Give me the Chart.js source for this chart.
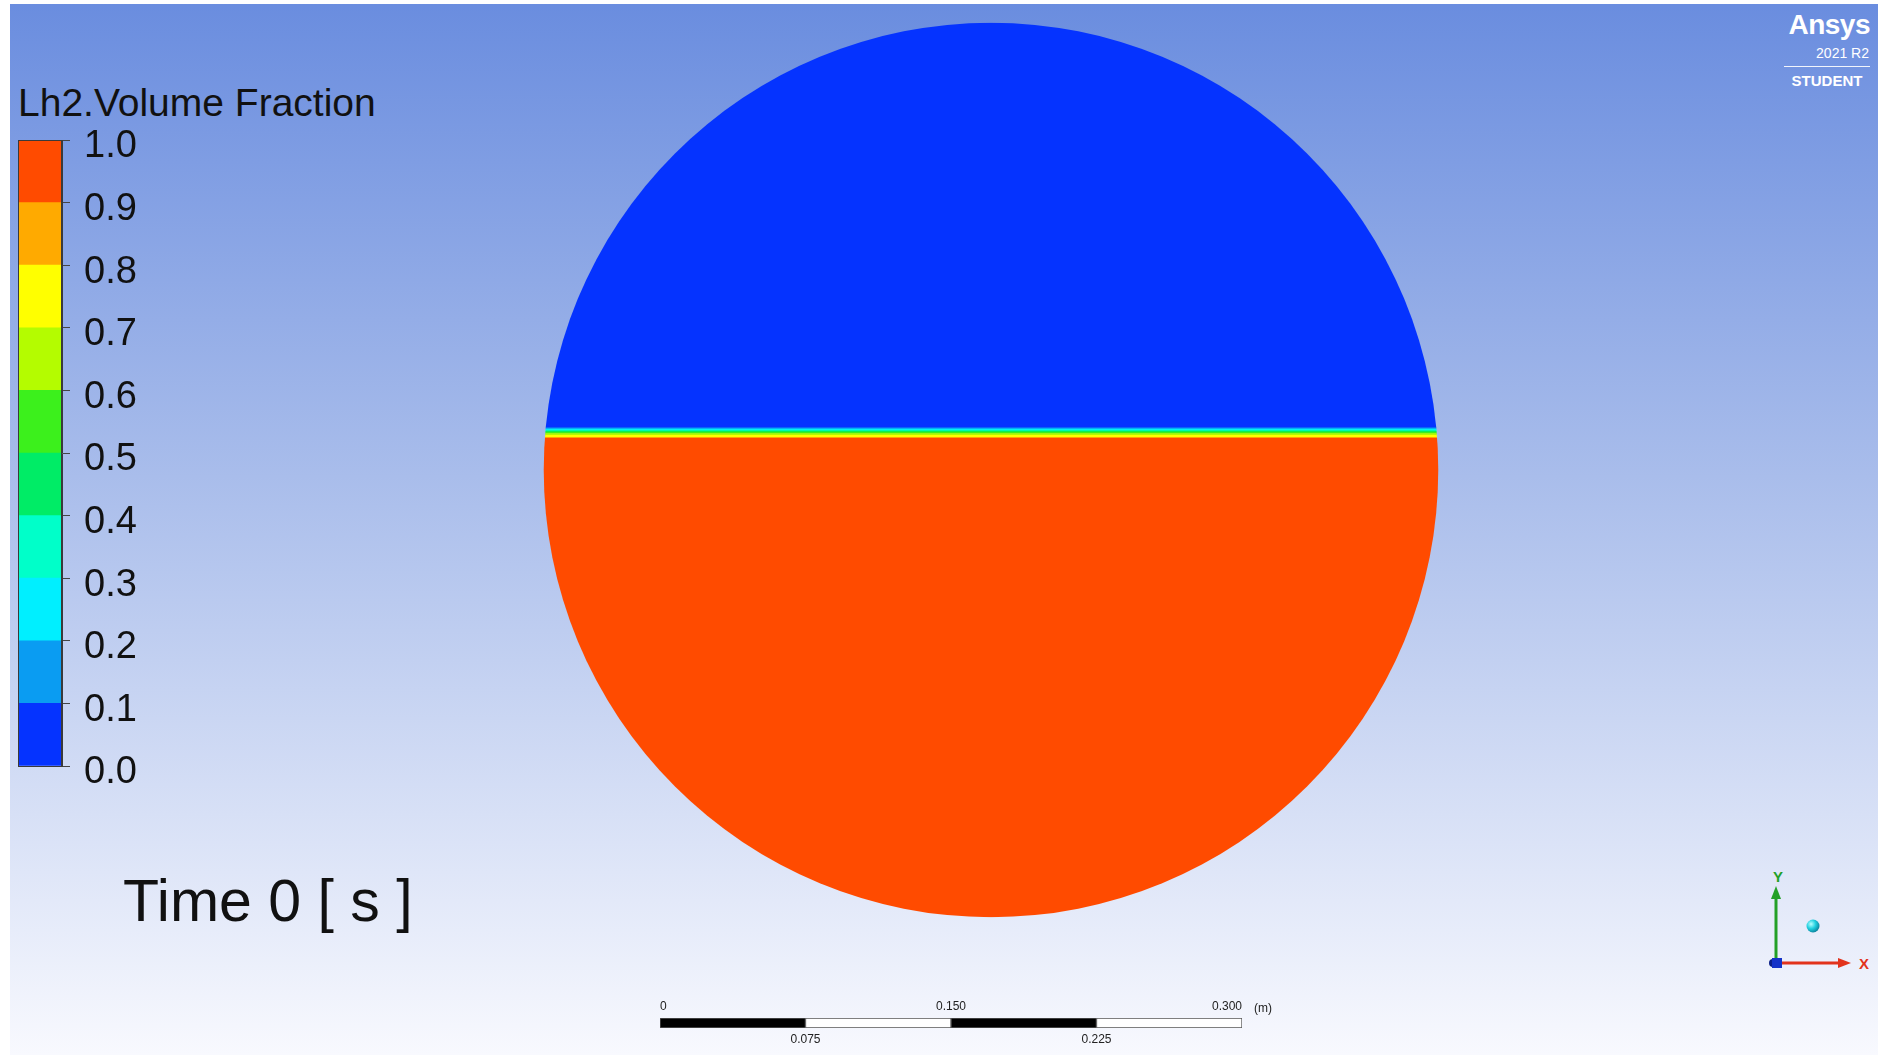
<!DOCTYPE html>
<html>
<head>
<meta charset="utf-8">
<script src="https://cdn.jsdelivr.net/npm/chart.js@4.4.0/dist/chart.umd.min.js"></script>
<style>
  html, body { margin: 0; padding: 0; width: 1878px; height: 1055px; overflow: hidden; background: #fff; }
  body { position: relative; font-family: "Liberation Sans", Arial, sans-serif; }
  #bg { position: absolute; left: 10px; top: 4px; right: 0; bottom: 0;
        background: linear-gradient(to bottom, #6a8ddf 0%, #a9bdeb 45%, #f8f9fe 100%); }
  canvas { position: absolute; }
  .txt { position: absolute; white-space: nowrap; line-height: 1; }
  #title { left: 18px; top: 83px; font-size: 39px; color: #111; }
  #time { left: 123px; top: 872px; font-size: 59px; color: #111; }
  #unit { left: 1254px; top: 1002px; font-size: 12px; color: #222; }
  #logo { position: absolute; right: 8px; top: 9px; width: 86px; color: #fff; text-align: right; }
  #logo .brand { font-size: 28px; font-weight: bold; letter-spacing: -0.5px; }
  #logo .ver { font-size: 14px; margin-top: 4px; margin-right: 1px; }
  #logo .rule { border-top: 1px solid rgba(255,255,255,0.9); margin-top: 5px; }
  #logo .ed { font-size: 15px; font-weight: bold; margin-top: 5px; text-align: center; }
  #triad { position: absolute; left: 1750px; top: 860px; }
</style>
</head>
<body>
<div id="bg"></div>

<div id="title" class="txt">Lh2.Volume Fraction</div>
<canvas id="legendBar" width="172" height="706" style="left:0;top:100px;"></canvas>

<canvas id="tank" width="920" height="912" style="left:531px;top:14px;"></canvas>

<div id="time" class="txt">Time 0 [ s ]</div>

<canvas id="scaleBar" width="720" height="65" style="left:600px;top:990px;"></canvas>
<div id="unit" class="txt">(m)</div>

<div id="logo">
  <div class="brand">Ansys</div>
  <div class="ver">2021 R2</div>
  <div class="rule"></div>
  <div class="ed">STUDENT</div>
</div>

<svg id="triad" width="128" height="120" viewBox="1750 860 128 120">
  <defs>
    <radialGradient id="ball" cx="0.35" cy="0.35" r="0.7">
      <stop offset="0" stop-color="#b8ffff"/>
      <stop offset="0.5" stop-color="#22d0e0"/>
      <stop offset="1" stop-color="#0a7f9a"/>
    </radialGradient>
  </defs>
  <line x1="1776" y1="962" x2="1776" y2="897" stroke="#23a027" stroke-width="3"/>
  <polygon points="1776,886 1771,899 1781,899" fill="#23a027"/>
  <line x1="1776" y1="963" x2="1840" y2="963" stroke="#e2331c" stroke-width="3"/>
  <polygon points="1851,963 1838,958 1838,968" fill="#e2331c"/>
  <circle cx="1773" cy="963" r="4" fill="#0b1f8a"/>
  <rect x="1772" y="958" width="10" height="10" fill="#1532c8"/>
  <circle cx="1813" cy="926" r="6.5" fill="url(#ball)"/>
  <text x="1778" y="882" font-family="Liberation Sans, Arial" font-size="15" font-weight="bold" fill="#23a027" text-anchor="middle">Y</text>
  <text x="1864" y="969" font-family="Liberation Sans, Arial" font-size="15" font-weight="bold" fill="#e2331c" text-anchor="middle">X</text>
</svg>

<script>
// contour levels of the colour map and their fill colours
const fractionLevels = [0.0, 0.1, 0.2, 0.3, 0.4, 0.5, 0.6, 0.7, 0.8, 0.9, 1.0];
const bandColors = ['#0533ff', '#0a9cf2', '#00efff', '#00ffc9', '#00ec66',
                    '#3cf01c', '#b4fc00', '#ffff00', '#ffaa00', '#ff4b00'];

// tank section (m) and the volume fraction layers across the free surface
const tankRadius = 0.2305;
const layerFloor    = [-0.2305, 0.0166, 0.0179, 0.0188, 0.0196, 0.0201, 0.0206, 0.0211, 0.0217];
const layerCeil     = [ 0.0166, 0.0179, 0.0188, 0.0196, 0.0201, 0.0206, 0.0211, 0.0217, 0.2305];
const layerFraction = [ 1.0,    0.75,   0.65,   0.55,   0.45,   0.35,   0.25,   0.15,   0.0];

// ruler (m)
const rulerSegments = [0.075, 0.075, 0.075, 0.075];
const rulerTopTicks = [0, 0.15, 0.3];
const rulerBottomTicks = [0.075, 0.225];

const fontFamily = '"Liberation Sans", Arial, sans-serif';

function bandColor(f) {
  const i = Math.min(bandColors.length - 1, Math.floor(f * 10 + 1e-9));
  return bandColors[i];
}

// colour legend
const barOutline = {
  id: 'barOutline',
  afterDatasetsDraw(chart) {
    const { ctx, chartArea: a } = chart;
    ctx.save();
    ctx.strokeStyle = '#3a3a3a';
    ctx.lineWidth = 1;
    ctx.strokeRect(a.left + 0.5, a.top + 0.5, a.right - a.left - 1, a.bottom - a.top);
    ctx.restore();
  }
};

new Chart(document.getElementById('legendBar'), {
  type: 'bar',
  data: {
    labels: [''],
    datasets: bandColors.map((c, i) => ({
      data: [fractionLevels[i + 1] - fractionLevels[i]],
      backgroundColor: c,
      borderWidth: 0,
      barPercentage: 1,
      categoryPercentage: 1
    }))
  },
  options: {
    responsive: false,
    animation: false,
    layout: { padding: { left: 18, top: 40, bottom: 40, right: 0 } },
    plugins: { legend: { display: false }, tooltip: { enabled: false } },
    scales: {
      x: { stacked: true, display: false },
      y: {
        stacked: true,
        position: 'right',
        min: 0,
        max: 1,
        afterFit(scale) { scale.width = 110; },
        afterBuildTicks(scale) { scale.ticks = fractionLevels.map(v => ({ value: v })); },
        ticks: {
          callback: v => Number(v).toFixed(1),
          font: { family: fontFamily, size: 38 },
          color: '#111',
          padding: 14,
          labelOffset: 7
        },
        grid: { drawOnChartArea: false, tickLength: 8, color: '#444' },
        border: { color: '#3a3a3a' }
      }
    }
  },
  plugins: [barOutline]
});

// tank cross-section: horizontal layers clipped to the circular wall
const tankClip = {
  id: 'tankClip',
  beforeDatasetsDraw(chart) {
    const { ctx, scales: { x, y } } = chart;
    const cx = x.getPixelForValue(0);
    const cy = y.getPixelForValue(0);
    const r = Math.abs(y.getPixelForValue(tankRadius) - cy);
    ctx.save();
    ctx.beginPath();
    ctx.arc(cx, cy, r, 0, Math.PI * 2);
    ctx.clip();
  },
  afterDatasetsDraw(chart) {
    chart.ctx.restore();
  }
};

new Chart(document.getElementById('tank'), {
  type: 'bar',
  data: {
    labels: ['section'],
    datasets: layerFraction.map((f, i) => ({
      data: [[layerFloor[i], layerCeil[i]]],
      backgroundColor: bandColor(f),
      borderWidth: 0,
      grouped: false,
      barPercentage: 1,
      categoryPercentage: 1
    }))
  },
  options: {
    responsive: false,
    animation: false,
    layout: { padding: 0 },
    plugins: { legend: { display: false }, tooltip: { enabled: false } },
    scales: {
      x: { display: false },
      y: { min: -0.235, max: 0.235, display: false }
    }
  },
  plugins: [tankClip]
});

// length ruler
const rulerTickFont = { family: fontFamily, size: 12 };
new Chart(document.getElementById('scaleBar'), {
  type: 'bar',
  data: {
    labels: [''],
    datasets: rulerSegments.map((v, i) => ({
      data: [v],
      backgroundColor: i % 2 === 0 ? '#000' : '#fff',
      borderColor: '#555',
      borderWidth: 1,
      borderSkipped: false,
      barPercentage: 1,
      categoryPercentage: 1
    }))
  },
  options: {
    indexAxis: 'y',
    responsive: false,
    animation: false,
    layout: { padding: { left: 60, right: 78, top: 0, bottom: 0 } },
    plugins: { legend: { display: false }, tooltip: { enabled: false } },
    scales: {
      y: { stacked: true, display: false },
      x: {
        stacked: true,
        position: 'top',
        min: 0,
        max: 0.3,
        afterFit(scale) { scale.height = 28; },
        afterBuildTicks(scale) { scale.ticks = rulerTopTicks.map(v => ({ value: v })); },
        ticks: {
          callback: v => (v === 0 ? '0' : Number(v).toFixed(3)),
          font: rulerTickFont,
          color: '#222',
          padding: 4,
          align: 'inner',
          maxRotation: 0
        },
        grid: { display: false, drawTicks: false },
        border: { display: false }
      },
      x2: {
        axis: 'x',
        type: 'linear',
        position: 'bottom',
        min: 0,
        max: 0.3,
        afterFit(scale) { scale.height = 27; },
        afterBuildTicks(scale) { scale.ticks = rulerBottomTicks.map(v => ({ value: v })); },
        ticks: {
          callback: v => Number(v).toFixed(3),
          font: rulerTickFont,
          color: '#222',
          padding: 4,
          maxRotation: 0
        },
        grid: { display: false, drawTicks: false },
        border: { display: false }
      }
    }
  }
});
</script>
</body>
</html>
